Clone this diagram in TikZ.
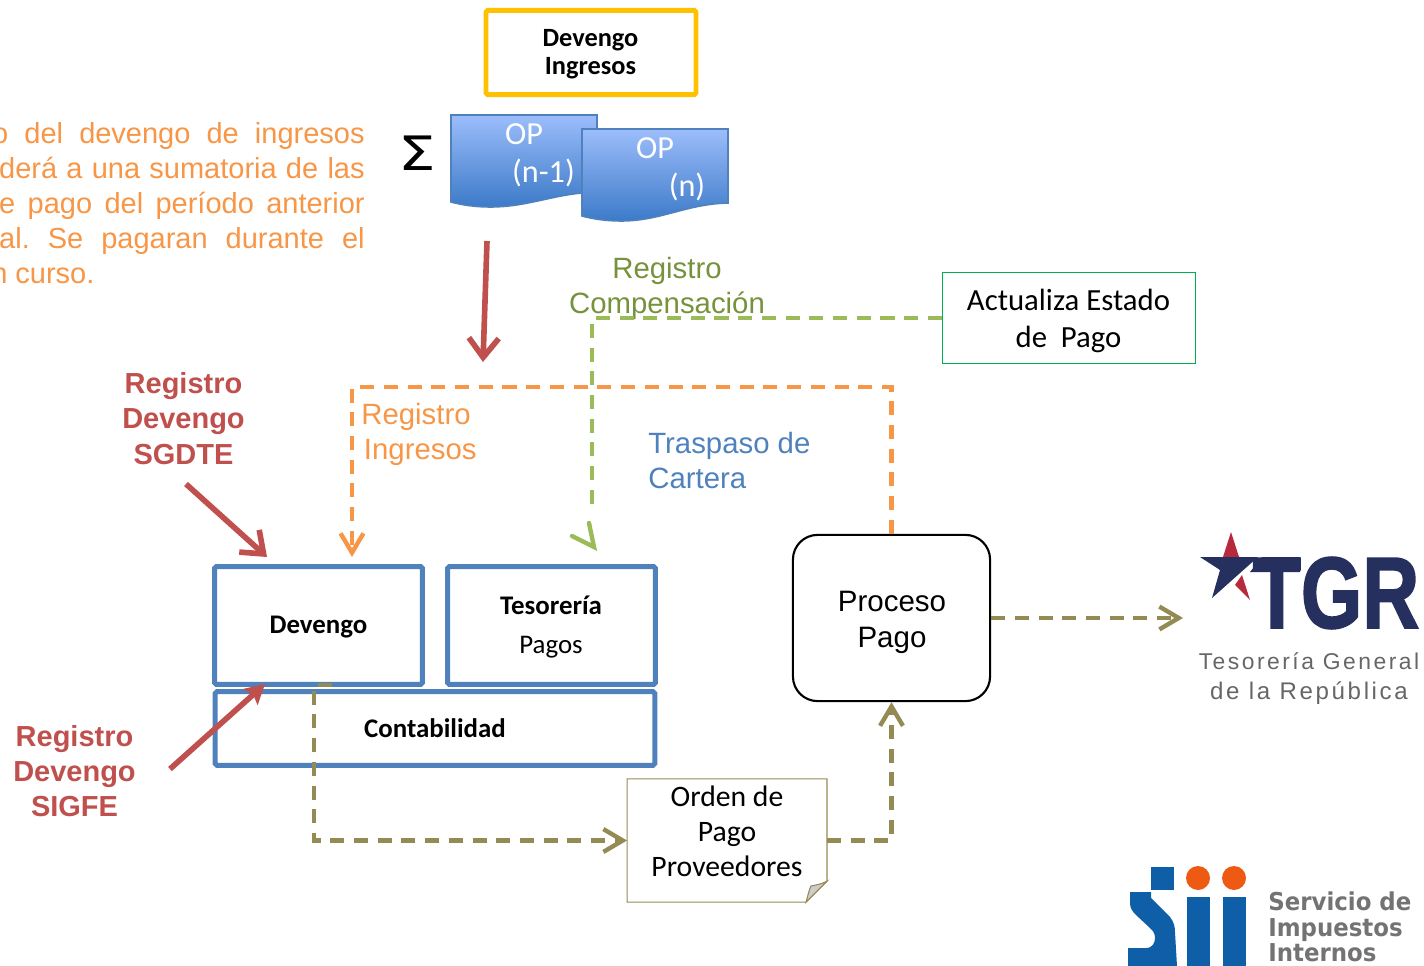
\documentclass[tikz,border=0pt]{standalone}
\usepackage{fontspec}
\usepackage{tikz}
\usetikzlibrary{arrows.meta}
\setmainfont{Carlito}
\newfontfamily\arialfont{Liberation Sans}
\newfontfamily\spacedfont[LetterSpace=11]{Liberation Sans}
\newfontfamily\dejafont{DejaVu Sans}
\newfontfamily\tgrfont[FakeBold=2]{Liberation Sans Bold}
\definecolor{boxblue}{HTML}{4F81BD}
\definecolor{oporange}{HTML}{F79646}
\definecolor{opgreen}{HTML}{9BBB59}
\definecolor{txtgreen}{HTML}{76923C}
\definecolor{opolive}{HTML}{948A54}
\definecolor{opred}{HTML}{C0504D}
\definecolor{tgrnavy}{HTML}{25305F}
\definecolor{tgrred}{HTML}{B7293C}
\definecolor{siiblue}{HTML}{0F5FA8}
\definecolor{siiorange}{HTML}{EE5A12}
\definecolor{optop}{HTML}{9CBDFB}
\definecolor{opbottom}{HTML}{3C7AC8}
\definecolor{devyellow}{HTML}{FFC000}
\definecolor{actgreen}{HTML}{00B050}
\newcommand{\notaline}[2]{\makebox[#1pt][s]{#2}}
\frenchspacing

\begin{document}
\begin{tikzpicture}[x=0.02cm,y=-0.02cm,line cap=butt,
  modbox/.style={draw=boxblue,line width=2.8pt,rounded corners=1pt,inner sep=0pt},
  boldtxt/.style={font=\fontsize{15.3}{16}\selectfont\bfseries},
  arialtxt/.style={font=\arialfont\fontsize{16.7}{20}\selectfont,align=left},
  redtxt/.style={font=\arialfont\bfseries\fontsize{16.5}{20.1}\selectfont,align=center,text=opred},
  flow/.style={line width=2.5pt,dash pattern=on 8pt off 5.5pt},
  barb/.style={-{Straight Barb[length=11pt,width=13pt,line width=2.5pt]}},
  redarrow/.style={draw=opred,line width=3.2pt},
  redbarb/.style={-{Straight Barb[length=11pt,width=17pt,line width=3.2pt]}},
  opdoc/.style={top color=optop,bottom color=opbottom,draw=boxblue,line width=0.9pt},
  optxt/.style={font=\fontsize{18.3}{20}\selectfont,text=white}]

\useasboundingbox (0,0) rectangle (1424,966);

\node (ingresos) at (591,52.5) [draw=devyellow,line width=2.8pt,rounded corners=1pt,inner sep=0pt,minimum width=119.5pt,minimum height=48pt] {};
\node (ingtxt) at (590.5,54) [align=center,font=\fontsize{15}{16}\selectfont\bfseries] {Devengo\\Ingresos};

\node (suma) at (417,153) [xscale=1.25,font=\dejafont\fontsize{27}{30}\selectfont] {Σ};

\shadedraw [opdoc] (451,115) -- (597,115) -- (597,192) .. controls (555,193) and (530,207) .. (490,207) .. controls (475,207) and (462,205) .. (451,202) -- cycle;
\node (opa) at (524,134) [optxt] {OP};
\node (opan) at (543.5,173) [optxt] {(n-1)};
\shadedraw [opdoc] (582,129) -- (728,129) -- (728,203) .. controls (686,204) and (661,221) .. (621,221) .. controls (606,221) and (593,219) .. (582,216) -- cycle;
\node (opb) at (655,148) [optxt] {OP};
\node (opbn) at (687,187) [optxt] {(n)};

\node (nota) at (365,203) [anchor=east,inner sep=0pt,align=right,text=oporange,font=\arialfont\fontsize{16.5}{19.9}\selectfont] {%
\notaline{212}{o del devengo de ingresos}\\
\notaline{208}{derá a una sumatoria de las}\\
\notaline{208}{e pago del período anterior}\\
\notaline{208}{al. Se pagaran durante el}\\
\makebox[208pt][l]{\hspace{-4.5pt}n curso.}};

\node (comp) at (667,288.5) [arialtxt,align=center,text=txtgreen] {Registro\\Compensación};
\node (actualiza) at (1069,318) [draw=actgreen,line width=0.6pt,minimum width=144pt,minimum height=52pt,inner sep=0pt] {};
\node (acttxt) at (1068.5,321) [align=center,font=\fontsize{17.5}{21.5}\selectfont] {Actualiza Estado\\de\ \ Pago};

\node (regsgdte) at (183.5,418.5) [redtxt] {Registro\\Devengo\\SGDTE};
\node (regsigfe) at (74.5,771) [redtxt] {Registro\\Devengo\\SIGFE};
\node (regingresos) at (361,434) [anchor=west,inner sep=0pt,arialtxt,text=oporange] {Registro\\\hspace{1.5pt}Ingresos};
\node (traspaso) at (648,460.5) [anchor=west,inner sep=0pt,arialtxt,text=boxblue] {Traspaso de\\Cartera};

\node (devengo) at (318.5,625.5) [modbox,minimum width=118.3pt,minimum height=67.1pt] {};
\node (devtxt) at (318.5,627) [boldtxt] {Devengo};
\node (tesoreria) at (551.5,625.5) [modbox,minimum width=118.3pt,minimum height=67.1pt] {};
\node (tesotxt) at (551,605) [boldtxt] {Tesorería};
\node (pagos) at (551,647) [font=\fontsize{15.3}{16}\selectfont] {Pagos};
\node (contab) at (435,728.5) [modbox,minimum width=250.2pt,minimum height=41.9pt,boldtxt] {Contabilidad};

\node (proceso) at (891.5,618) [draw,line width=1.2pt,rounded corners=14pt,minimum width=112.2pt,minimum height=94.6pt,inner sep=0pt] {};
\node (procesotxt) at (892,622) [align=center,font=\arialfont\fontsize{16.8}{20.4}\selectfont] {Proceso\\Pago};

\node (orden) at (727,840.5) [minimum width=113.4pt,minimum height=69.7pt,inner sep=0pt] {};
\node (ordentxt) at (727,831) [align=center,font=\fontsize{16.9}{20}\selectfont] {Orden de\\Pago\\Proveedores};
\draw [opolive,line width=0.6pt] (orden.north west) -- (orden.north east) -- ([yshift=11.9pt]orden.south east) -- ([xshift=-11.9pt]orden.south east) -- (orden.south west) -- cycle;
\filldraw [draw=opolive,fill=black!20,line width=0.6pt] ([xshift=-11.9pt]orden.south east) .. controls (808,895) and (809,890) .. (811,886) .. controls (816,885) and (822,884) .. ([yshift=11.9pt]orden.south east) -- cycle;

\coordinate (sumaend) at (483,362);
\coordinate (sumastart) at (487,241);
\draw [redarrow,redbarb] (sumastart) -- (sumaend);

\coordinate (sgdtestart) at (186,484);
\coordinate (sgdteend) at (267,557);
\draw [redarrow,redbarb] (sgdtestart) -- (sgdteend);

\coordinate (sigfestart) at (170,769);
\coordinate (sigfeend) at (265,684);
\draw [redarrow,-{Stealth[length=11pt,width=12pt,inset=2pt]}] (sigfestart) -- (sigfeend);

\coordinate (ingcorner) at (352,387);
\coordinate (ingend) at (352,557);
\draw [oporange,flow,barb] (proceso.north) |- (ingcorner) -- (ingend);

\coordinate (grnstop) at (592,512);
\coordinate (grnup) at (589,523);
\coordinate (grntip) at (594,547);
\coordinate (grnleft) at (572,536);
\draw [opgreen,flow] (actualiza.west) -| (grnstop);
\draw [opgreen,line width=2.5pt,line cap=round,line join=miter] (grnleft) -- (grntip) -- (grnup);

\coordinate (olstart) at (332,685);
\coordinate (olcorner) at (314,685);
\draw [opolive,flow,barb] (olstart) -- (olcorner) |- (orden.west);
\draw [opolive,flow,barb] (orden.east) -| (proceso.south);
\coordinate (tgrend) at (1183,618);
\draw [opolive,flow,barb] (proceso.east) -- (tgrend);

\fill [tgrred] (1231,532) -- (1223,557) -- (1239,557) -- cycle;
\fill [tgrred] (1242,575) -- (1250,600) -- (1235,585) -- cycle;
\fill [tgrnavy] (1200,557) -- (1258,557) -- (1212,598) -- (1220,570) -- cycle;
\fill [tgrnavy] (1262,557) -- (1300,557) -- (1300,572) -- (1250,572) -- cycle;
\node (tgr) at (1336,593) [inner sep=0pt,xscale=0.78,text=tgrnavy,font=\tgrfont\fontsize{57.5}{60}\selectfont] {TGR};
\node (tgrline) at (1309,661) [inner sep=0pt,text=black!60,font=\spacedfont\fontsize{13}{15}\selectfont] {Tesorería General};
\node (tgrlinb) at (1309,693) [inner sep=0pt,text=black!60,font=\spacedfont\fontsize{13.7}{15}\selectfont] {de la República};

\fill [siiblue] (1151,867) rectangle (1174,890);
\fill [siiblue] (1130,892) -- (1151,892) -- (1151,898) -- (1170,917) .. controls (1174,922) and (1175,927) .. (1175,932) -- (1177,966) -- (1128,966) -- (1128,948) -- (1146,948) .. controls (1153,948) and (1155,942) .. (1155,938) .. controls (1155,933) and (1153,931) .. (1150,928) -- (1136,915) .. controls (1132,911) and (1130,908) .. (1130,903) -- cycle;
\fill [siiorange] (1198,878) circle (12);
\fill [siiorange] (1234,878) circle (12);
\fill [siiblue] (1187,897) rectangle (1210,966);
\fill [siiblue] (1223,897) rectangle (1246,966);
\node (sii) at (1268,927) [anchor=west,inner sep=0pt,xscale=0.93,align=left,text=black!55,font=\dejafont\bfseries\fontsize{14}{14.4}\selectfont] {Servicio de\\Impuestos\\Internos};
\end{tikzpicture}
\end{document}
